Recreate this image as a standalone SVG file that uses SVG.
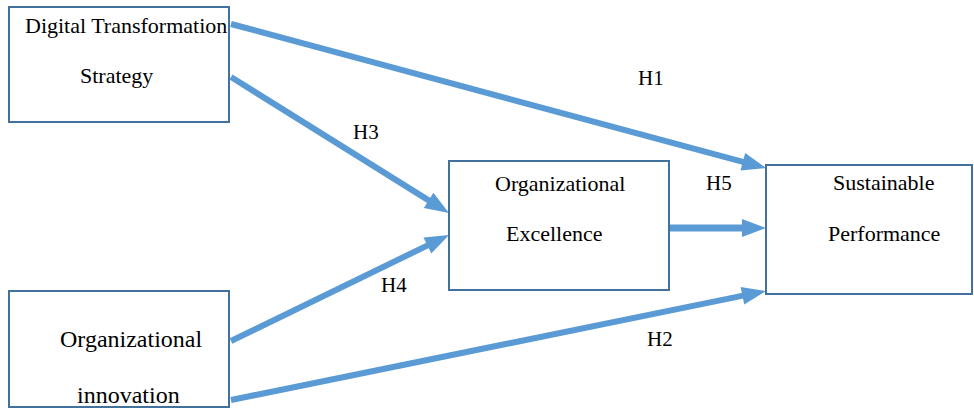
<svg xmlns="http://www.w3.org/2000/svg" width="974" height="409" viewBox="0 0 974 409">
  <style>
    .box { fill: #ffffff; stroke: #41719c; stroke-width: 2; }
    .lbl { font-family: "Liberation Serif", "Times New Roman", serif; font-size: 22px; fill: #000000; }
    .hyp { font-family: "Liberation Serif", "Times New Roman", serif; font-size: 21px; fill: #000000; }
    .link { fill: none; stroke: #5b9bd5; stroke-width: 6; marker-end: url(#head); }
  </style>
  <defs>
    <marker id="head" markerUnits="userSpaceOnUse" markerWidth="30" markerHeight="24" refX="0" refY="0" viewBox="-4 -12 30 24" orient="auto" overflow="visible">
      <path d="M-2,-9 L22,0 L-2,9 z" fill="#5b9bd5"/>
    </marker>
  </defs>
  <rect width="974" height="409" fill="#ffffff"/>

  <g id="connectors">
    <line class="link" x1="231" y1="24" x2="744.8" y2="162.3"/>
    <line class="link" x1="231" y1="77" x2="430.3" y2="201.4"/>
    <line class="link" x1="231" y1="341" x2="429.2" y2="244.6"/>
    <line class="link" x1="231" y1="400" x2="744.4" y2="295.4"/>
    <line class="link" x1="669" y1="228" x2="744" y2="228" style="stroke-width:7"/>
    <text class="hyp" x="638" y="85">H1</text>
    <text class="hyp" x="353" y="139">H3</text>
    <text class="hyp" x="706" y="190">H5</text>
    <text class="hyp" x="381" y="292">H4</text>
    <text class="hyp" x="647" y="346">H2</text>
  </g>

  <g id="digital-transformation-strategy">
    <rect class="box" x="9" y="7" width="220" height="115"/>
    <text class="lbl" x="25" y="33">Digital Transformation</text>
    <text class="lbl" x="80" y="83">Strategy</text>
  </g>

  <g id="organizational-innovation">
    <rect class="box" x="9" y="291" width="220" height="116"/>
    <text class="lbl" x="60" y="347" style="font-size:24px">Organizational</text>
    <text class="lbl" x="77" y="403" style="font-size:24px">innovation</text>
  </g>

  <g id="organizational-excellence">
    <rect class="box" x="449" y="161" width="220" height="129"/>
    <text class="lbl" x="495" y="191">Organizational</text>
    <text class="lbl" x="506" y="241">Excellence</text>
  </g>

  <g id="sustainable-performance">
    <rect class="box" x="766" y="165" width="206" height="129"/>
    <text class="lbl" x="833" y="190">Sustainable</text>
    <text class="lbl" x="828" y="241">Performance</text>
  </g>
</svg>
